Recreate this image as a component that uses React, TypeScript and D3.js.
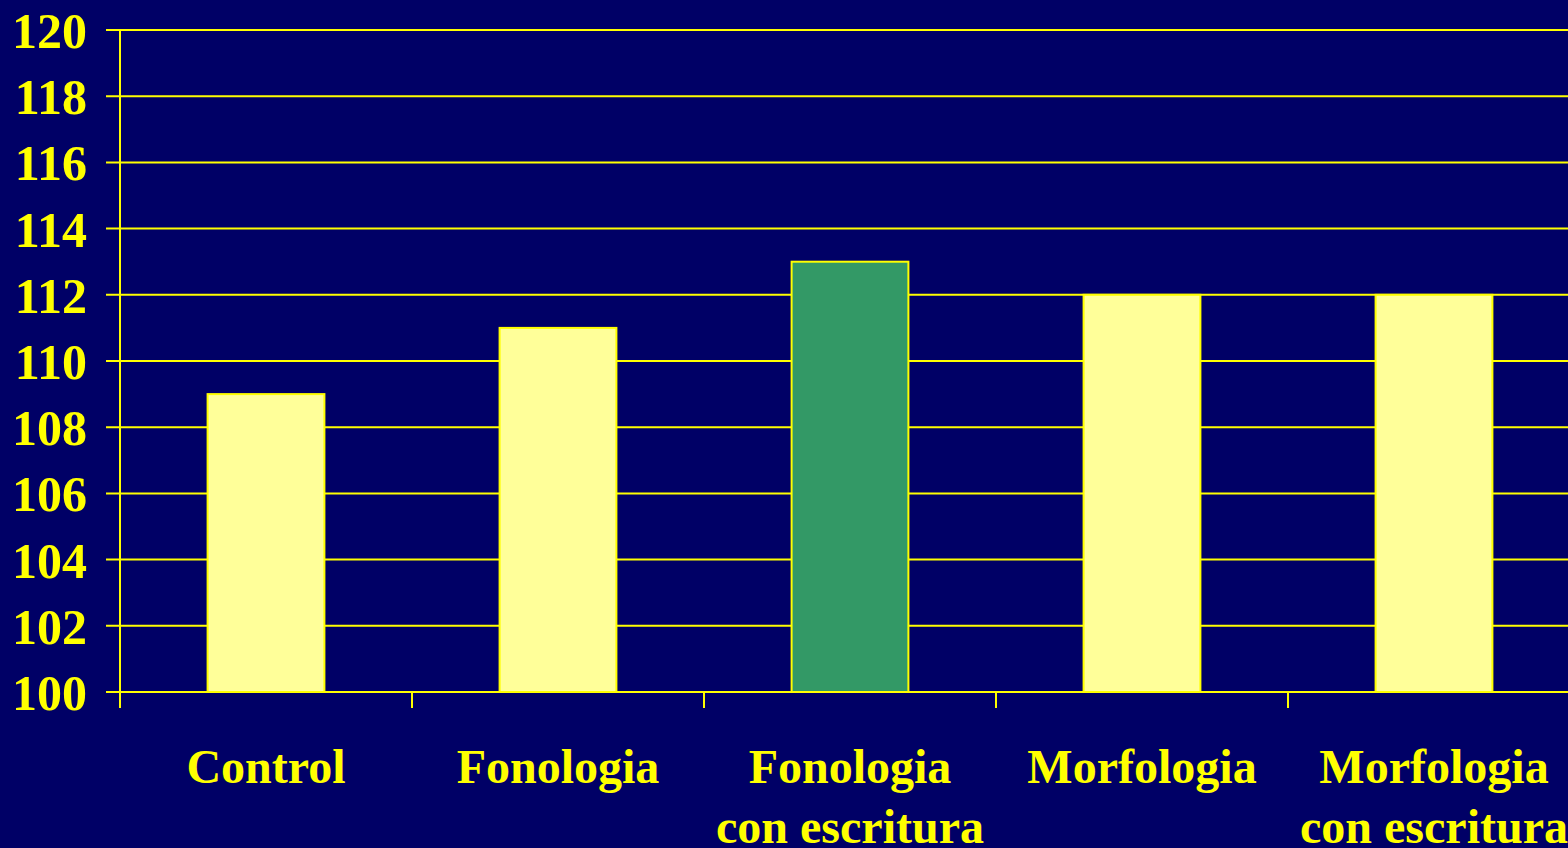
import React from "react";
import * as d3 from "d3";

const categories: string[][] = [
  ["Control"],
  ["Fonologia"],
  ["Fonologia", "con escritura"],
  ["Morfologia"],
  ["Morfologia", "con escritura"],
];
const values: number[] = [109, 111, 113, 112, 112];
const highlight: boolean[] = [false, false, true, false, false];
const yTicks: number[] = [100, 102, 104, 106, 108, 110, 112, 114, 116, 118, 120];

const W = 1568;
const H = 848;
const BG = "#000066";
const YEL = "#FFFF00";
const BAR = "#FFFF99";
const GREEN = "#339966";
const FONT = "'Liberation Serif', 'Times New Roman', serif";

export default function App() {
  const x = d3
    .scaleBand<number>()
    .domain(values.map((_, i) => i))
    .range([120, 120 + 5 * 292])
    .paddingInner(0.6)
    .paddingOuter(0.3);
  const y = d3.scaleLinear().domain([100, 120]).range([692, 30]);
  const step = x.step();
  const bandStart = (i: number) => (x(i) as number) - x.paddingInner() * step / 2;

  return (
    <svg
      width={W}
      height={H}
      style={{ position: "absolute", left: 0, top: 0, display: "block" }}
    >
      <rect x={0} y={0} width={W} height={H} fill={BG} />
      {yTicks.map((t) => (
        <g key={t}>
          <line x1={106} x2={W} y1={y(t)} y2={y(t)} stroke={YEL} strokeWidth={2} />
          <text
            x={87}
            y={y(t) + 18}
            textAnchor="end"
            fill={YEL}
            fontFamily={FONT}
            fontWeight="bold"
            fontSize={50}
          >
            {t}
          </text>
        </g>
      ))}
      <line x1={120} x2={120} y1={y(120)} y2={708} stroke={YEL} strokeWidth={2} />
      {values.map((_, i) => (
        <line
          key={"tk" + i}
          x1={bandStart(i)}
          x2={bandStart(i)}
          y1={y(100)}
          y2={708}
          stroke={YEL}
          strokeWidth={2}
        />
      ))}
      {values.map((v, i) => (
        <rect
          key={"b" + i}
          x={x(i)}
          y={y(v)}
          width={x.bandwidth()}
          height={y(100) - y(v)}
          fill={highlight[i] ? GREEN : BAR}
          stroke={YEL}
          strokeWidth={2}
        />
      ))}
      <line x1={106} x2={W} y1={y(100)} y2={y(100)} stroke={YEL} strokeWidth={2} />
      {categories.map((lines, i) => (
        <text
          key={"c" + i}
          textAnchor="middle"
          fill={YEL}
          fontFamily={FONT}
          fontWeight="bold"
          fontSize={48}
        >
          {lines.map((ln, j) => (
            <tspan key={j} x={(x(i) as number) + x.bandwidth() / 2} y={783 + j * 60}>
              {ln}
            </tspan>
          ))}
        </text>
      ))}
    </svg>
  );
}
